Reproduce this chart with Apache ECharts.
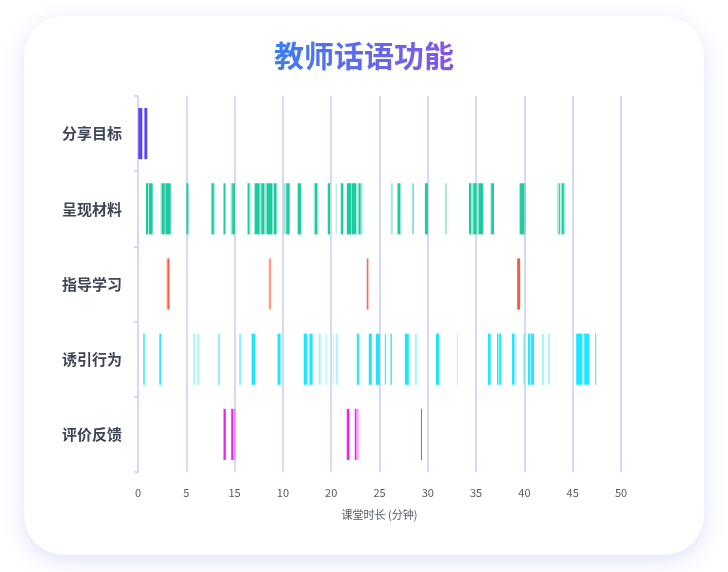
<!DOCTYPE html>
<html>
<head>
<meta charset="utf-8">
<title>教师话语功能</title>
<script src="https://cdn.jsdelivr.net/npm/echarts@6/dist/echarts.min.js"></script>
<style>
  html, body { margin: 0; padding: 0; background: #fff; }
  #wrap { position: relative; width: 728px; height: 572px; overflow: hidden; }
  #card {
    position: absolute; left: 24px; top: 16px; width: 680px; height: 539px;
    border-radius: 40px; background: #fff;
    box-shadow: 0 6px 22px rgba(110, 125, 240, 0.22);
  }
  #chart { position: absolute; left: 0; top: 0; width: 728px; height: 572px; }
  /* 标题渐变色，canvas 文字不支持渐变填充，用 css 实现 */
  #title {
    position: absolute; left: 0; top: 37px; width: 728px; height: 34px;
    text-align: center; line-height: 34px; z-index: 2;
  }
  #title span {
    font-family: "Noto Sans CJK SC", sans-serif; font-size: 30px; font-weight: bold;
    background: linear-gradient(90deg, #3c7df2, #8655e8);
    -webkit-background-clip: text; background-clip: text;
    -webkit-text-fill-color: transparent; color: transparent;
  }
</style>
</head>
<body>
<div id="wrap">
  <div id="card"></div>
  <div id="chart"></div>
  <div id="title"><span>教师话语功能</span></div>
</div>
<script>
// 话语类别
const categories = ['分享目标', '呈现材料', '指导学习', '诱引行为', '评价反馈']
// x轴刻度文字（原图即如此）
const tickLabels = ['0', '5', '15', '10', '20', '25', '30', '35', '40', '45', '50']

// 每段 [开始分钟, 结束分钟, 强度 1=强 0=弱]
const shareGoal = [[0.03, 0.45, 1], [0.66, 0.96, 1]]

const presentMaterial = [
  [0.83, 1.07, 1], [1.14, 1.52, 1], [2.32, 2.45, 0], [2.45, 2.77, 1], [2.83, 3.39, 1],
  [5.01, 5.22, 1], [7.6, 7.85, 1], [7.85, 7.95, 0], [8.85, 9.06, 1], [9.58, 9.75, 0],
  [9.75, 10.03, 1], [11.34, 11.55, 1], [11.55, 11.62, 0], [12.07, 12.59, 1], [12.59, 12.76, 0],
  [12.76, 13.07, 1], [13.07, 13.31, 0], [13.31, 13.9, 1], [13.9, 14.07, 0], [14.07, 14.35, 1],
  [15.08, 15.35, 0], [15.35, 15.7, 1], [16.53, 16.87, 1], [18.19, 18.3, 0], [18.3, 18.55, 1],
  [18.55, 18.67, 0], [19.64, 19.88, 1], [20.47, 20.57, 0], [20.99, 21.26, 1], [21.61, 22.05, 1],
  [22.05, 22.13, 0], [22.13, 22.61, 1], [22.82, 23.05, 1], [23.05, 23.24, 0],
  [26.17, 26.38, 0], [26.8, 26.89, 0], [26.89, 27.17, 1], [28.42, 28.52, 1], [29.7, 30.01, 1],
  [31.77, 31.98, 0], [34.26, 34.47, 1], [34.47, 34.71, 0], [34.71, 35.05, 1], [35.05, 35.26, 0],
  [35.26, 35.71, 1], [36.47, 36.57, 0], [36.57, 36.85, 1], [39.45, 39.55, 0], [39.55, 39.97, 1],
  [39.97, 40.17, 0], [43.39, 43.6, 0], [43.6, 43.7, 1], [43.77, 43.87, 0], [43.87, 44.08, 1],
  [44.08, 44.22, 0]
]

const guideLearning = [
  [2.94, 3.04, 0], [3.04, 3.25, 1], [13.52, 13.62, 0], [13.62, 13.73, 1], [23.68, 23.8, 1],
  [23.8, 23.9, 0], [39.25, 39.56, 1]
]

const elicitBehavior = [
  [0.55, 0.69, 1], [2.21, 2.38, 1], [5.74, 5.95, 0], [6.15, 6.36, 0], [8.33, 8.44, 1],
  [10.51, 10.61, 1], [11.76, 12.14, 1], [14.45, 14.76, 1], [17.15, 17.5, 1], [17.67, 17.77, 0],
  [17.77, 18.08, 1], [18.7, 18.91, 0], [19.43, 19.54, 0], [20.16, 20.26, 0], [20.47, 20.68, 0],
  [22.65, 22.86, 1], [22.86, 22.96, 0], [23.89, 24.2, 1], [24.62, 25.03, 1], [25.55, 25.65, 1],
  [26.06, 26.16, 0], [26.16, 26.27, 1], [27.62, 28.03, 1], [28.03, 28.17, 0], [28.66, 28.87, 0],
  [30.84, 31.18, 1], [33.01, 33.12, 0], [36.23, 36.51, 1], [37.16, 37.3, 1], [37.3, 37.4, 0],
  [37.4, 37.58, 1], [38.72, 38.97, 1], [38.97, 39.14, 0], [39.86, 40.07, 0], [40.38, 40.6, 1],
  [40.6, 40.7, 0], [40.7, 41.0, 1], [41.83, 42.04, 0], [42.45, 42.66, 0], [45.36, 45.98, 1],
  [45.98, 46.19, 0], [46.19, 46.71, 1], [47.33, 47.43, 1]
]

const evaluateFeedback = [
  [8.85, 9.09, 1], [9.65, 9.86, 1], [9.86, 10.1, 0], [21.61, 21.89, 1], [22.44, 22.6, 1],
  [22.6, 22.86, 0], [29.29, 29.39, 1]
]

const rows = [shareGoal, presentMaterial, guideLearning, elicitBehavior, evaluateFeedback]
const colors = ['#5a45f6', '#1dcba0', '#ff5a3c', '#22e4ff', '#ee22ee']

// 拼成 custom series 需要的数据 [类别, 开始, 结束, 强度]
var data = []
rows.forEach(function (list, i) {
  list.forEach(function (seg) {
    data.push([i, seg[0], seg[1], seg[2]])
  })
})

function renderItem(params, api) {
  var cat = api.value(0)
  var start = api.coord([api.value(1), cat])
  var end = api.coord([api.value(2), cat])
  var h = api.size([0, 1])[1] * 0.68
  var shape = echarts.graphic.clipRectByRect({
    x: start[0],
    y: start[1] - h / 2,
    width: Math.max(end[0] - start[0], 1),
    height: h
  }, {
    x: params.coordSys.x,
    y: params.coordSys.y,
    width: params.coordSys.width,
    height: params.coordSys.height
  })
  return shape && {
    type: 'rect',
    shape: shape,
    style: {
      fill: colors[cat],
      opacity: api.value(3) === 1 ? 1 : 0.4
    }
  }
}

var chart = echarts.init(document.getElementById('chart'), null, { renderer: 'canvas' })
var font = '"Noto Sans CJK SC", "Noto Sans", sans-serif'
var lineColor = '#d3daf6'

chart.setOption({
  animation: false,
  backgroundColor: 'transparent',
  textStyle: { fontFamily: font },
  grid: { left: 138, right: 107, top: 96, bottom: 100 },
  xAxis: {
    type: 'value',
    min: 0,
    max: 50,
    interval: 5,
    name: '课堂时长 (分钟)',
    nameLocation: 'middle',
    nameGap: 37,
    nameTextStyle: { color: '#555a66', fontSize: 11 },
    axisLine: { show: false },
    axisTick: { show: false },
    axisLabel: {
      color: '#555a66',
      fontSize: 11,
      margin: 15,
      formatter: function (v) {
        return tickLabels[Math.round(v / 5)]
      }
    },
    splitLine: { show: true, lineStyle: { color: lineColor, width: 2 } }
  },
  yAxis: {
    type: 'category',
    data: categories,
    inverse: true,
    axisLine: { show: true, lineStyle: { color: lineColor, width: 2 } },
    axisTick: { show: true, length: 4, lineStyle: { color: lineColor, width: 2 } },
    axisLabel: { color: '#3f4656', fontSize: 15, fontWeight: 'bold', margin: 16 },
    splitLine: { show: false }
  },
  series: [{
    type: 'custom',
    renderItem: renderItem,
    encode: { x: [1, 2], y: 0 },
    data: data
  }]
})
</script>
</body>
</html>
